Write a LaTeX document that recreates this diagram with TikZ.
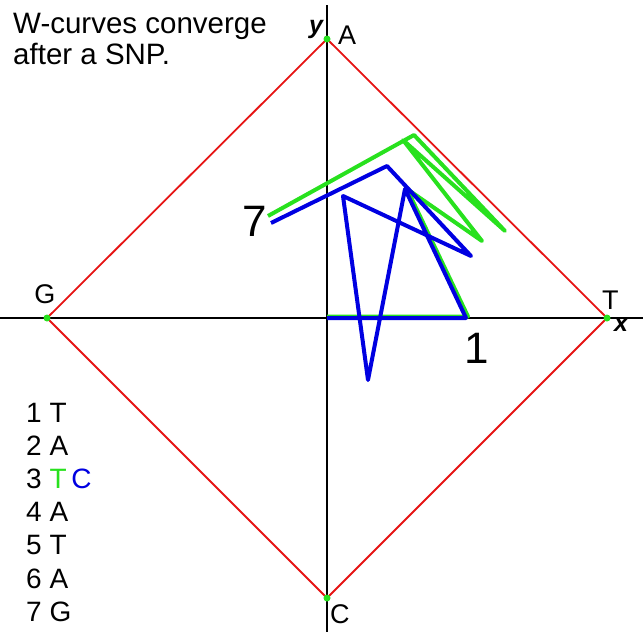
\documentclass[tikz,border=0pt]{standalone}
\usepackage{fontspec}
\setmainfont{Liberation Sans}
\definecolor{wgreen}{RGB}{40,225,30}
\definecolor{wblue}{RGB}{0,0,225}
\definecolor{wred}{RGB}{230,20,20}
\begin{document}
\begin{tikzpicture}[x=1pt,y=-1pt,
  axis/.style={black,line width=1.3pt},
  frame/.style={wred,line width=1.8pt},
  walkg/.style={wgreen,line width=4pt,line join=round},
  walkb/.style={wblue,line width=4pt,line join=round},
  corner/.style={circle,fill=wgreen,inner sep=0pt,minimum size=7pt},
  lbl/.style={inner sep=0pt,font=\fontsize{27}{30}\selectfont},
  axl/.style={inner sep=0pt,font=\fontsize{25}{28}\selectfont\bfseries\itshape},
  big/.style={inner sep=0pt,font=\fontsize{44}{48}\selectfont},
  leg/.style={inner sep=0pt,anchor=base west,font=\fontsize{28}{32}\selectfont},
  ttl/.style={inner sep=0pt,anchor=base west,font=\fontsize{29.5}{32}\selectfont}]
\useasboundingbox (0,0) rectangle (643,632);
% axes
\coordinate (xl) at (0,318);
\coordinate (xr) at (643,318);
\coordinate (yt) at (327,5);
\coordinate (yb) at (327,632);
\draw[axis] (xl) -- (xr);
\draw[axis] (yt) -- (yb);
% corners
\coordinate (A) at (327,39);
\coordinate (T) at (607,318);
\coordinate (C) at (327,598);
\coordinate (G) at (47,318);
\draw[frame] (A) -- (T) -- (C) -- (G) -- cycle;
% green walk (T A T A T A G)
\coordinate (g0) at (327,316.5);
\coordinate (g1) at (468,316.5);
\coordinate (g2) at (407,189);
\coordinate (g3) at (482,241);
\coordinate (g4) at (403,140);
\coordinate (g5) at (505,231);
\coordinate (g6) at (414,135);
\coordinate (g7) at (268,216);
\draw[walkg] (g0) -- (g1) -- (g2) -- (g3) -- (g4) -- (g5) -- (g6) -- (g7);
% blue walk (T A C A T A G)
\coordinate (b0) at (327,318);
\coordinate (b1) at (466,318);
\coordinate (b2) at (405,189);
\coordinate (b3) at (368,380);
\coordinate (b4) at (343,196);
\coordinate (b5) at (471,256);
\coordinate (b6) at (387,166);
\coordinate (b7) at (271,223);
\draw[walkb] (b0) -- (b1) -- (b2) -- (b3) -- (b4) -- (b5) -- (b6) -- (b7);
% corner dots
\node[corner] (dA) at (A) {};
\node[corner] (dT) at (T) {};
\node[corner] (dC) at (C) {};
\node[corner] (dG) at (G) {};
% labels
\node[lbl,anchor=base west] (lA) at (338,44) {A};
\node[lbl,anchor=base west] (lT) at (602,309) {T};
\node[lbl,anchor=base] (lG) at (45,303) {G};
\node[lbl,anchor=base west] (lC) at (330,623) {C};
\node[axl,anchor=base] (ly) at (316,33) {y};
\node[axl,anchor=base] (lx) at (621,331) {x};
\node[big,anchor=base] (n7) at (255,236) {7};
\node[big,anchor=base] (n1) at (477,363) {1};
% title
\node[ttl] (t1) at (13,33) {W-curves converge};
\node[ttl] (t2) at (13,64) {after a SNP.};
% legend
\node[leg] (s1) at (26,422) {1 T};
\node[leg] (s2) at (26,455.2) {2 A};
\node[leg] (s3) at (26,488.4) {3 \textcolor{wgreen}{T}\,\textcolor{wblue}{C}};
\node[leg] (s4) at (26,521.6) {4 A};
\node[leg] (s5) at (26,554.8) {5 T};
\node[leg] (s6) at (26,588) {6 A};
\node[leg] (s7) at (26,621.2) {7 G};
\end{tikzpicture}
\end{document}
